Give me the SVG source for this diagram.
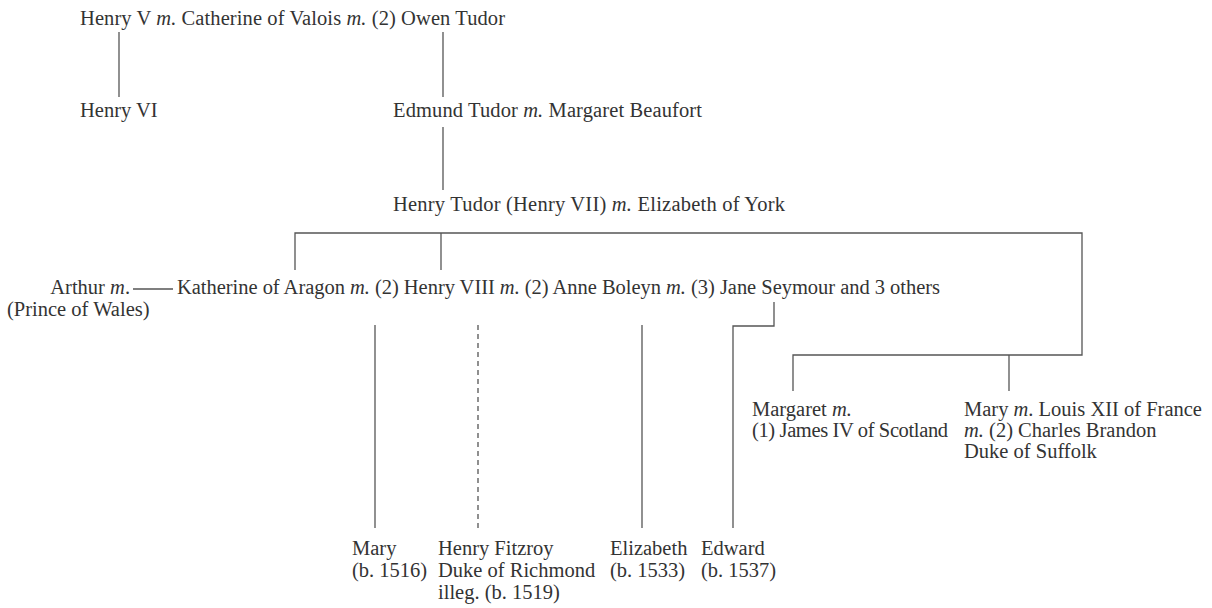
<svg xmlns="http://www.w3.org/2000/svg" width="1212" height="608" viewBox="0 0 1212 608">
<style>
text{font-family:"Liberation Serif","Times New Roman",serif;font-size:20.5px;fill:#333}
.i{font-style:italic}
.ln{stroke:#555;stroke-width:1.3;fill:none}
.dash{stroke-dasharray:5 4}
</style>
<rect width="1212" height="608" fill="#fff"/>
<g id="connectors">
<line class="ln" x1="119" y1="32" x2="119" y2="97"/>
<line class="ln" x1="443" y1="32" x2="443" y2="97"/>
<line class="ln" x1="443" y1="127" x2="443" y2="190"/>
<polyline class="ln" points="295,270 295,233 1082,233 1082,355 793,355 793,391"/>
<line class="ln" x1="441" y1="233" x2="441" y2="270"/>
<line class="ln" x1="1009" y1="355" x2="1009" y2="391"/>
<line class="ln" x1="133" y1="289" x2="173" y2="289"/>
<line class="ln" x1="375" y1="325" x2="375" y2="528"/>
<line class="ln dash" x1="478" y1="325" x2="478" y2="528"/>
<line class="ln" x1="642" y1="325" x2="642" y2="528"/>
<polyline class="ln" points="774,302 774,326 733,326 733,528"/>
</g>
<g id="gen1"><text x="80" y="25" textLength="425" lengthAdjust="spacing">Henry V <tspan class="i">m.</tspan> Catherine of Valois <tspan class="i">m.</tspan> (2) Owen Tudor</text></g>
<g id="henry6"><text x="80" y="117">Henry VI</text></g>
<g id="edmund"><text x="393" y="117" textLength="309" lengthAdjust="spacing">Edmund Tudor <tspan class="i">m.</tspan> Margaret Beaufort</text></g>
<g id="henry7"><text x="393" y="211" textLength="392" lengthAdjust="spacing">Henry Tudor (Henry VII) <tspan class="i">m.</tspan> Elizabeth of York</text></g>
<g id="arthur"><text x="130" y="294" text-anchor="end">Arthur <tspan class="i">m</tspan>.</text><text x="7" y="316">(Prince of Wales)</text></g>
<g id="henry8"><text x="177" y="294" textLength="763" lengthAdjust="spacing">Katherine of Aragon <tspan class="i">m.</tspan> (2) Henry VIII <tspan class="i">m.</tspan> (2) Anne Boleyn <tspan class="i">m.</tspan> (3) Jane Seymour and 3 others</text></g>
<g id="margaret"><text x="752" y="416">Margaret <tspan class="i">m.</tspan></text><text x="752" y="437" textLength="196" lengthAdjust="spacing">(1) James IV of Scotland</text></g>
<g id="mary-tudor"><text x="964" y="416">Mary <tspan class="i">m</tspan>. Louis XII of France</text><text x="964" y="437"><tspan class="i">m.</tspan> (2) Charles Brandon</text><text x="964" y="458">Duke of Suffolk</text></g>
<g id="mary"><text x="352" y="555">Mary</text><text x="352" y="577">(b. 1516)</text></g>
<g id="fitzroy"><text x="438" y="555">Henry Fitzroy</text><text x="438" y="577">Duke of Richmond</text><text x="438" y="599">illeg. (b. 1519)</text></g>
<g id="elizabeth"><text x="610" y="555">Elizabeth</text><text x="610" y="577">(b. 1533)</text></g>
<g id="edward"><text x="701" y="555">Edward</text><text x="701" y="577">(b. 1537)</text></g>
</svg>
